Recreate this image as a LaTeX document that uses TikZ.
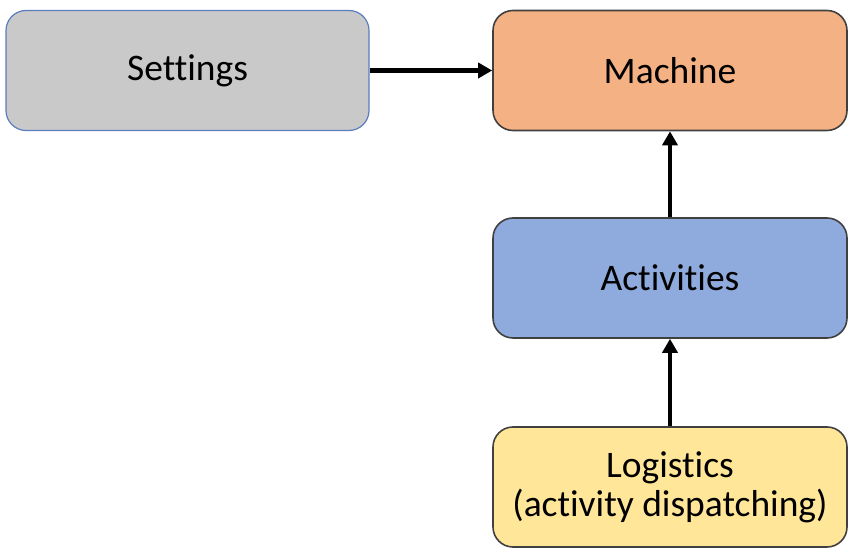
\documentclass[tikz,border=0pt]{standalone}
\usepackage{fontspec}
\setmainfont{Carlito}[Ligatures=NoCommon]
\usetikzlibrary{arrows.meta}
\definecolor{setfill}{HTML}{C9C9C9}
\definecolor{setline}{HTML}{5A7DBE}
\definecolor{machfill}{HTML}{F4B183}
\definecolor{actfill}{HTML}{8FAADC}
\definecolor{logfill}{HTML}{FFE699}
\definecolor{boxline}{HTML}{404040}
\tikzset{
    block/.style={draw=boxline, line width=1.6pt, rounded corners=20pt, minimum width=354pt, minimum height=120pt, align=center, font=\fontsize{37.5}{39}\selectfont, inner sep=0pt},
    >={Triangle[length=14pt,width=15pt]}
}
\begin{document}
\begin{tikzpicture}[x=1pt,y=1pt]
    \useasboundingbox (0,0) rectangle (848,548);
    \node[block, fill=setfill, draw=setline, line width=1.2pt, minimum width=363pt] (set) at (187.5,477.5) {Settings};
    \node[right of=set, block, fill=machfill, node distance=482.5pt] (mach) {Machine};
    \node[below of=mach, block, fill=actfill, node distance=207.5pt] (act) {Activities};
    \node[below of=act, block, fill=logfill, node distance=209pt] (logi) {Logistics\\(activity dispatching)};
    \draw[->, line width=4.5pt] (set) -- (mach);
    \draw[->, line width=4.5pt] (act) -- (mach);
    \draw[->, line width=4.5pt] (logi) -- (act);
\end{tikzpicture}
\end{document}
